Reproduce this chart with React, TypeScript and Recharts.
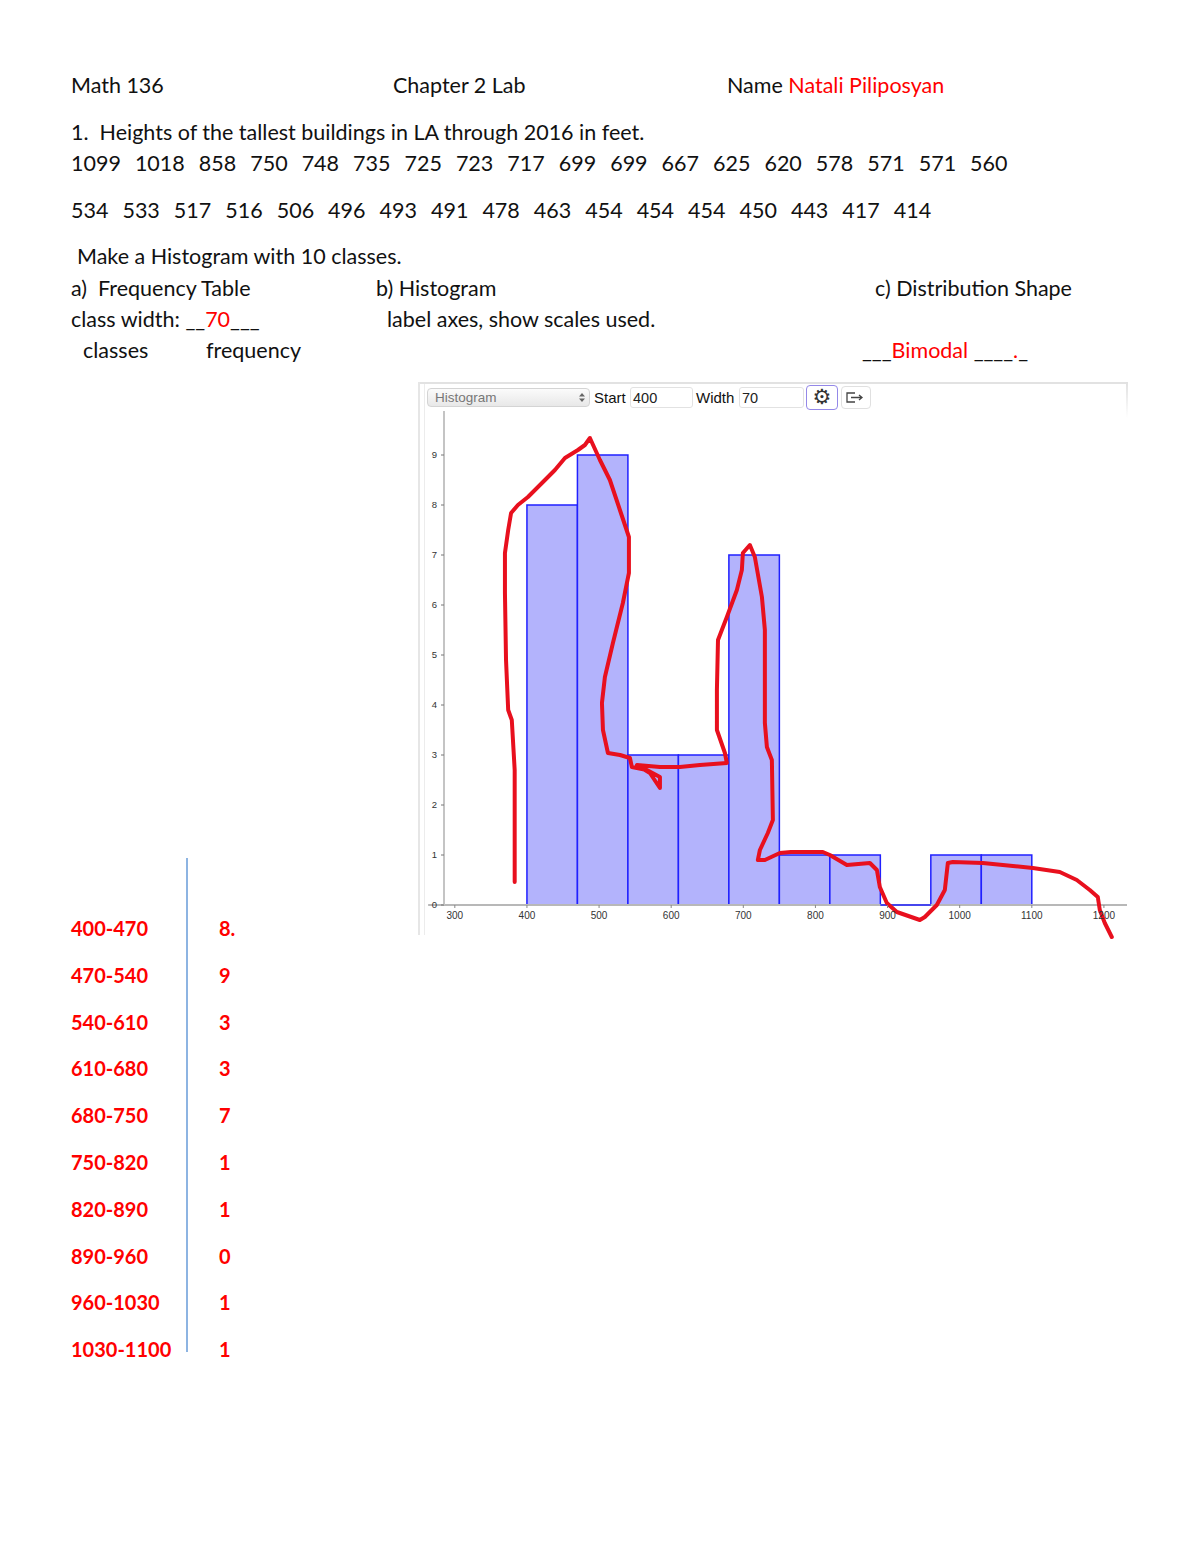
import React from 'react';
import { ComposedChart, XAxis, YAxis, Line, ReferenceArea, ReferenceLine } from 'recharts';

// frequency table / histogram bins
const binStarts = [400, 470, 540, 610, 680, 750, 820, 890, 960, 1030];
const classWidth = 70;
const frequencies = [8, 9, 3, 3, 7, 1, 1, 0, 1, 1];
const classLabels = ['400-470', '470-540', '540-610', '610-680', '680-750', '750-820', '820-890', '890-960', '960-1030', '1030-1100'];
const freqLabels = ['8.', '9', '3', '3', '7', '1', '1', '0', '1', '1'];

const xTicks = [300, 400, 500, 600, 700, 800, 900, 1000, 1100, 1200];
const yTicks = [0, 1, 2, 3, 4, 5, 6, 7, 8, 9];

// the raw data line on the worksheet
const heightsRow1 = [1099, 1018, 858, 750, 748, 735, 725, 723, 717, 699, 699, 667, 625, 620, 578, 571, 571, 560];
const heightsRow2 = [534, 533, 517, 516, 506, 496, 493, 491, 478, 463, 454, 454, 454, 450, 443, 417, 414];

// hand drawn red stroke in (feet, count) units
const sketchX = [383, 383, 379, 374, 371, 369.5, 369.5, 374, 378, 387.5, 401.4, 425, 438.8, 452.7, 470.7, 480.4, 487.3,
  501.2, 515, 528.9, 541.4, 541.4, 533, 519.2, 508.1, 504, 505.4, 512.3, 529, 542.8, 545.5, 566.3, 584.4, 584.4, 570.5,
  552.5, 584.4, 612.1, 639.8, 677.2, 674.5, 663.4, 663.4, 664.9, 677.2, 691.1, 698, 699.4, 709.1, 716, 725.8, 729.9,
  729.9, 732.7, 739.6, 741, 734, 723, 720.2, 729.9, 750.7, 766, 803.4, 810.3, 820, 843.6, 875.5, 885.2, 889.3, 899,
  912.9, 944.8, 951.7, 968.3, 979.4, 983.6, 990.5, 1032.1, 1073.7, 1101.4, 1138.8, 1162.4, 1180.4, 1191.5, 1194.3,
  1201.2, 1210.9];
const sketchY = [0.46, 2.7, 3.7, 3.9, 4.9, 6.24, 7.04, 7.5, 7.84, 8.0, 8.16, 8.5, 8.7, 8.94, 9.1, 9.2, 9.34,
  8.9, 8.5, 7.9, 7.36, 6.64, 6.04, 5.24, 4.56, 4.04, 3.5, 3.04, 3.0, 2.94, 2.76, 2.7, 2.56, 2.34, 2.64,
  2.8, 2.76, 2.76, 2.8, 2.84, 3.04, 3.5, 4.3, 5.3, 5.76, 6.3, 6.7, 7.04, 7.2, 6.96, 6.16, 5.5,
  3.64, 3.16, 2.9, 1.7, 1.44, 1.1, 0.9, 0.9, 1.04, 1.06, 1.06, 1.06, 1.0, 0.8, 0.84, 0.7, 0.36, 0.04,
  -0.14, -0.3, -0.24, 0.0, 0.3, 0.84, 0.86, 0.84, 0.78, 0.74, 0.66, 0.5, 0.3, 0.16, -0.1,
  -0.36, -0.64];

const sketchData = sketchX.map((x, i) => ({ x, y: sketchY[i] }));

const RED = '#ff0000';
const FONT = 'Lato, "Noto Sans", sans-serif';
const UI_FONT = "'Liberation Sans', sans-serif";

// chart geometry
const CW = 712;
const CH = 550;
const MARGIN = { top: 11, right: 3, left: 0, bottom: 0 };
const X_AXIS_H = 7.5;
const X_DOMAIN: [number, number] = [285, 1232];
const Y_DOMAIN: [number, number] = [-0.75, 9.88];
const PLOT_H = CH - MARGIN.top - MARGIN.bottom - X_AXIS_H;
const ZERO_OFFSET = (PLOT_H * (0 - Y_DOMAIN[0])) / (Y_DOMAIN[1] - Y_DOMAIN[0]);

const XTick = (props: any) => {
  const { x, y, payload } = props;
  const base = y - ZERO_OFFSET;
  return (
    <g>
      <line x1={x} x2={x} y1={base} y2={base + 3} stroke="#888" strokeWidth={1} />
      <text x={x} y={base + 14} textAnchor="middle" fontSize={10} fill="#333" fontFamily={UI_FONT}>
        {payload.value}
      </text>
    </g>
  );
};

const T = ({ x, y, children, style }: { x: number; y: number; children: React.ReactNode; style?: React.CSSProperties }) => (
  <div style={{ position: 'absolute', left: x, top: y - 13, lineHeight: '26px', whiteSpace: 'pre', ...style }}>{children}</div>
);

const Histogram = () => (
  <ComposedChart width={CW} height={CH} data={sketchData} margin={MARGIN}>
    <XAxis
      type="number"
      dataKey="x"
      domain={X_DOMAIN}
      allowDataOverflow
      ticks={xTicks}
      interval={0}
      axisLine={false}
      tickLine={false}
      tickSize={0}
      tickMargin={0}
      height={X_AXIS_H}
      tick={(p: any) => <XTick {...p} />}
    />
    <YAxis
      type="number"
      dataKey="y"
      domain={Y_DOMAIN}
      allowDataOverflow
      ticks={yTicks}
      interval={0}
      axisLine={false}
      tickSize={3}
      tickMargin={4}
      width={26}
      tickLine={{ stroke: '#777' }}
      tick={{ fontSize: 9.5, fill: '#333', fontFamily: UI_FONT }}
    />
    <ReferenceLine segment={[{ x: 263, y: 0 }, { x: X_DOMAIN[1], y: 0 }]} stroke="#b8b8b8" strokeWidth={2} ifOverflow="visible" />
    <ReferenceLine segment={[{ x: X_DOMAIN[0], y: 0 }, { x: X_DOMAIN[0], y: Y_DOMAIN[1] }]} stroke="#c4c4c4" strokeWidth={2} ifOverflow="visible" />
    {binStarts.map((lo, i) =>
      frequencies[i] > 0 ? (
        <ReferenceArea
          key={lo}
          x1={lo}
          x2={lo + classWidth}
          y1={0}
          y2={frequencies[i]}
          fill="#b3b3fc"
          fillOpacity={1}
          stroke="#2020ff"
          strokeWidth={1.5}
          ifOverflow="visible"
        />
      ) : (
        <ReferenceLine key={lo} segment={[{ x: lo, y: 0 }, { x: lo + classWidth, y: 0 }]} stroke="#2020ff" strokeWidth={1.5} ifOverflow="visible" />
      )
    )}
    <Line
      dataKey="y"
      type="linear"
      stroke="#e8101e"
      strokeWidth={4}
      strokeLinejoin="round"
      strokeLinecap="round"
      dot={false}
      activeDot={false}
      isAnimationActive={false}
    />
  </ComposedChart>
);

const inputBox: React.CSSProperties = {
  position: 'absolute', top: 387, height: 21, boxSizing: 'border-box', border: '1px solid #e2e2e2',
  borderRadius: 3, fontFamily: UI_FONT, fontSize: 14.5, lineHeight: '20px', paddingLeft: 2, color: '#222',
};

const Toolbar = () => (
  <>
    <div
      style={{
        position: 'absolute', left: 427, top: 388, width: 163, height: 19, boxSizing: 'border-box',
        border: '1px solid #d4d4d4', borderRadius: 4, background: 'linear-gradient(#fbfbfb, #e8e8e8)',
        fontFamily: UI_FONT, fontSize: 13.5, color: '#777', lineHeight: '17px', paddingLeft: 7,
      }}
    >
      Histogram
      <svg width="8" height="11" style={{ position: 'absolute', right: 3, top: 3 }}>
        <path d="M1 4.5 L4 1 L7 4.5 Z M1 6.5 L4 10 L7 6.5 Z" fill="#666" />
      </svg>
    </div>
    <div style={{ position: 'absolute', left: 594, top: 389, fontFamily: UI_FONT, fontSize: 15, lineHeight: '18px' }}>Start</div>
    <div style={{ ...inputBox, left: 630, width: 63 }}>400</div>
    <div style={{ position: 'absolute', left: 696, top: 389, fontFamily: UI_FONT, fontSize: 15, lineHeight: '18px' }}>Width</div>
    <div style={{ ...inputBox, left: 739, width: 65 }}>70</div>
    <div
      style={{
        position: 'absolute', left: 806, top: 385, width: 32, height: 25, boxSizing: 'border-box', border: '1.5px solid #9488e8',
        borderRadius: 4, textAlign: 'center', fontFamily: '"DejaVu Sans", sans-serif', fontSize: 21, lineHeight: '22px', color: '#333',
      }}
    >
      ⚙
    </div>
    <div
      style={{
        position: 'absolute', left: 841, top: 386, width: 30, height: 23, boxSizing: 'border-box', border: '1px solid #e0e0e0', borderRadius: 4,
      }}
    >
      <svg width="28" height="21">
        <path d="M13 6 H5 V15 H13" fill="none" stroke="#444" strokeWidth={1.3} />
        <path d="M9 10.5 H20 M17 8 L20 10.5 L17 13" fill="none" stroke="#444" strokeWidth={1.3} />
      </svg>
    </div>
  </>
);

export default function App() {
  const base: React.CSSProperties = { fontFamily: FONT, fontSize: 21.5, color: '#111' };
  const table: React.CSSProperties = { color: RED, fontWeight: 700, fontSize: 20 };
  return (
    <div style={{ position: 'absolute', left: 0, top: 0, width: 1200, height: 1553, background: '#fff', overflow: 'hidden', ...base }}>
      <T x={71} y={85}>Math 136</T>
      <T x={393} y={85}>Chapter 2 Lab</T>
      <T x={727} y={85}>
        Name <span style={{ color: RED }}>Natali Piliposyan</span>
      </T>
      <T x={71} y={132}>1.  Heights of the tallest buildings in LA through 2016 in feet.</T>
      <T x={71} y={163}>
        {heightsRow1.map((h, i) => (
          <span key={i} style={{ marginRight: 14 }}>{h}</span>
        ))}
      </T>
      <T x={71} y={210}>
        {heightsRow2.map((h, i) => (
          <span key={i} style={{ marginRight: 14 }}>{h}</span>
        ))}
      </T>
      <T x={77} y={256}>Make a Histogram with 10 classes.</T>
      <T x={71} y={288}>a)  Frequency Table</T>
      <T x={376} y={288}>b) Histogram</T>
      <T x={875} y={288}>c) Distribution Shape</T>
      <T x={71} y={319}>
        class width: __<span style={{ color: RED }}>70</span>___
      </T>
      <T x={387} y={319}>label axes, show scales used.</T>
      <T x={83} y={350}>classes</T>
      <T x={206} y={350}>frequency</T>
      <T x={862} y={350}>
        ___<span style={{ color: RED }}>Bimodal</span> ____<span style={{ color: RED }}>.</span>_
      </T>

      {/* frequency table */}
      <div style={{ position: 'absolute', left: 186, top: 858, width: 2, height: 494, background: '#8db4e2' }} />
      {classLabels.map((c, i) => (
        <T key={c} x={71} y={928 + i * 46.8} style={table}>{c}</T>
      ))}
      {freqLabels.map((f, i) => (
        <T key={i} x={219} y={928 + i * 46.8} style={table}>{f}</T>
      ))}

      {/* screenshot frame */}
      <div style={{ position: 'absolute', left: 418, top: 382, width: 710, height: 2, background: '#e2e2e2' }} />
      <div style={{ position: 'absolute', left: 418, top: 382, width: 2, height: 553, background: '#e6e6e6' }} />
      <div style={{ position: 'absolute', left: 424, top: 384, width: 1, height: 551, background: '#ececec' }} />
      <div style={{ position: 'absolute', left: 1126, top: 382, width: 2, height: 36, background: 'linear-gradient(#e0e0e0, #ffffff)' }} />
      <Toolbar />
      <div style={{ position: 'absolute', left: 418, top: 400 }}>
        <Histogram />
      </div>
    </div>
  );
}
